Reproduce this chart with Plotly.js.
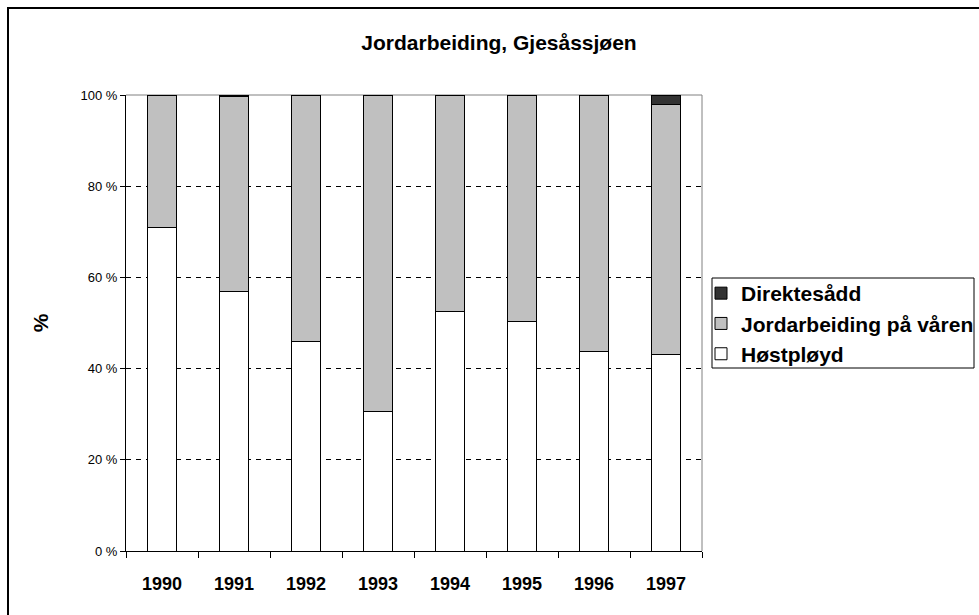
<!DOCTYPE html>
<html>
<head>
<meta charset="utf-8">
<script src="https://cdn.plot.ly/plotly-3.0.1.min.js"></script>
<style>html,body{margin:0;padding:0;background:#fff;}#chart{width:979px;height:615px;}</style>
</head>
<body>
<div id="chart"></div>
<script>
const years = ['1990','1991','1992','1993','1994','1995','1996','1997'];
const hostployd = [71.0, 57.0, 46.0, 30.5, 52.6, 50.4, 43.7, 43.2];
const varen = [29.0, 42.7, 54.0, 69.3, 47.4, 49.6, 56.3, 54.7];
const direkte = [0, 0.3, 0, 0.2, 0, 0, 0, 2.1];
const seriesNames = ['Høstpløyd', 'Jordarbeiding på våren', 'Direktesådd'];
const yTicks = [0, 20, 40, 60, 80, 100];

const FONT = 'Arial, "Liberation Sans", sans-serif';
const W = 979, H = 615, L = 126, R = 277, T = 95, B = 64;
const PW = W - L - R, PH = H - T - B;
const px = x => (x - L) / PW;
const py = y => (H - B - y) / PH;

function bar(y, name, color) {
  return {type: 'bar', x: years, y: y, name: name,
    marker: {color: color, line: {color: '#000', width: 1}}, hoverinfo: 'x+y+name'};
}
const data = [
  bar(hostployd, seriesNames[0], '#ffffff'),
  bar(varen, seriesNames[1], '#c0c0c0'),
  bar(direkte, seriesNames[2], '#333333')
];
const layout = {
  width: W, height: H,
  margin: {l: L, r: R, t: T, b: B, pad: 0, autoexpand: false},
  paper_bgcolor: '#fff', plot_bgcolor: '#fff',
  barmode: 'stack', bargap: 0.6,
  font: {family: FONT, color: '#000'},
  title: {text: '<b>Jordarbeiding, Gjesåssjøen</b>', font: {family: FONT, size: 21, color: '#000'},
    x: 499 / W, xanchor: 'center', y: 1 - 43 / H, yanchor: 'middle'},
  xaxis: {type: 'category', showline: true, linecolor: '#000', linewidth: 1,
    ticks: 'outside', tickson: 'boundaries', ticklen: 6, tickcolor: '#000',
    ticklabelstandoff: 16, automargin: false,
    tickfont: {family: FONT, size: 18, color: '#000', weight: 'bold'},
    showgrid: false, zeroline: false, mirror: false},
  yaxis: {range: [0, 100], tickvals: yTicks, ticktext: yTicks.map(v => v + ' %'),
    showline: true, linecolor: '#000', linewidth: 1, automargin: false,
    ticks: 'outside', ticklen: 5, tickcolor: '#000',
    tickfont: {family: FONT, size: 13, color: '#000'},
    showgrid: true, gridcolor: '#000', griddash: '5px,5px', gridwidth: 1, zeroline: false,
    title: {text: '<b>%</b>', font: {family: FONT, size: 21, color: '#000'}, standoff: 26}},
  legend: {xref: 'container', yref: 'container', x: 701 / W, xanchor: 'left', y: 1 - 273 / H, yanchor: 'top',
    traceorder: 'reversed', borderwidth: 0, bgcolor: 'rgba(0,0,0,0)',
    font: {family: FONT, size: 21, color: '#000', weight: 'bold'}, itemwidth: 30},
  showlegend: true,
  shapes: [
    {type: 'line', xref: 'paper', yref: 'paper', x0: 0, x1: 1, y0: 1, y1: 1, line: {color: '#808080', width: 1}, layer: 'below'},
    {type: 'line', xref: 'paper', yref: 'paper', x0: 1, x1: 1, y0: 0, y1: 1, line: {color: '#808080', width: 1}, layer: 'below'},
    {type: 'rect', xref: 'paper', yref: 'paper', x0: px(712), x1: px(974), y0: py(368), y1: py(278),
      line: {color: '#000', width: 1}, fillcolor: '#fff', layer: 'below'},
    {type: 'rect', xref: 'paper', yref: 'paper',
      x0: px(8), x1: px(1000), y0: py(640), y1: py(8),
      line: {color: '#000', width: 2}, fillcolor: 'rgba(0,0,0,0)'}
  ]
};
Plotly.newPlot('chart', data, layout, {displayModeBar: false, staticPlot: true});
</script>
</body>
</html>
